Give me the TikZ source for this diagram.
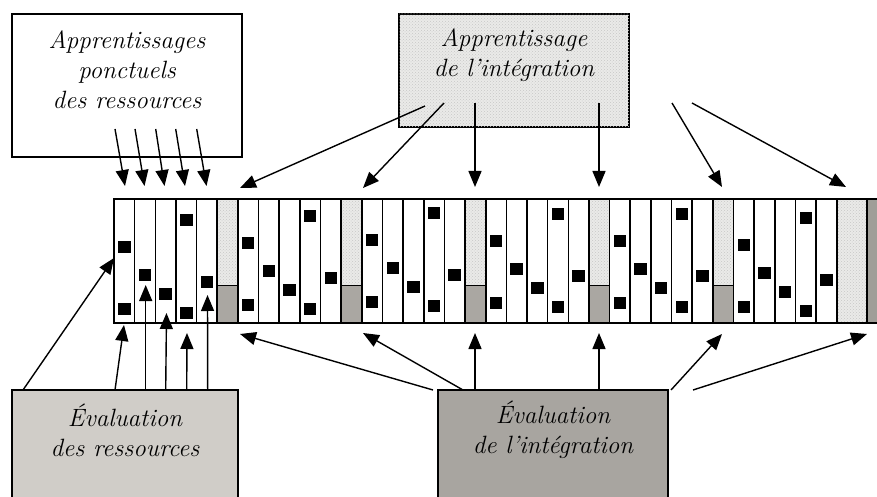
\documentclass[tikz,border=0pt]{standalone}
\usetikzlibrary{arrows.meta,patterns,calc}
\definecolor{lowgray}{RGB}{170,167,162}
\definecolor{cgray}{RGB}{208,205,200}
\definecolor{dgray}{RGB}{168,165,160}
\definecolor{rgray}{RGB}{160,158,152}
\definecolor{lightdot}{RGB}{234,234,232}
\begin{document}
\begin{tikzpicture}[x=1pt,y=-1pt,
  arr/.style={line width=1.4pt, -{Triangle[width=13pt,length=16pt]}},
  box/.style={draw, line width=1.4pt, rectangle, inner sep=0pt},
  lbl/.style={font=\fontsize{25}{30}\selectfont\itshape, align=center, inner sep=0pt},
  colline/.style={line width=1.6pt},
  dotfill/.style={fill=lightdot, postaction={pattern=crosshatch dots, pattern color=black!22}},
  sq/.style={fill=black, minimum size=12.5pt, inner sep=0pt, rectangle}
]
\clip (0,0) rectangle (877,497);
\fill[white] (0,0) rectangle (877,497);

% boxes
\node[box, fill=white, minimum width=230pt, minimum height=143pt] (A) at (127,85.5) {};
\node[lbl] (At) at (127,70) {Apprentissages\\ponctuels\\des ressources};
\node[box, dotfill, minimum width=230pt, minimum height=113pt] (B) at (514,70.5) {};
\node[lbl] (Bt) at (514,55) {Apprentissage\\de l'intégration};
\node[box, fill=cgray, minimum width=226pt, minimum height=130pt] (C) at (125,455) {};
\node[lbl] (Ct) at (125,430) {Évaluation\\des ressources};
\node[box, fill=dgray, minimum width=230pt, minimum height=130pt] (D) at (553,455) {};
\node[lbl] (Dt) at (553,430) {Évaluation\\de l'intégration};

% strip
\foreach \i in {5,11,17,23,29} {
  \path[dotfill] ({114+20.65*\i},199) rectangle ({114+20.65*(\i+1)},285);
  \fill[lowgray] ({114+20.65*\i},285) rectangle ({114+20.65*(\i+1)},323);
  \draw[line width=0.8pt] ({114+20.65*\i},285) -- ({114+20.65*(\i+1)},285);
}
\path[dotfill] (836.75,199) rectangle (867,323);
\fill[rgray] (867,199) rectangle (880,323);
\foreach \i in {1,...,35} {
  \draw[colline] ({114+20.65*\i},199) -- ({114+20.65*\i},323);
}
\draw[colline] (867,199) -- (867,323);
\draw[line width=1.7pt] (880,199) -- (114,199) -- (114,323) -- (880,323);

% squares
\foreach \g/\o in {0/6,1/2,2/-1,3/0,4/0,5/4} {
  \foreach \j/\yy in {0/241,0/303,1/269,2/288,3/214,3/307,4/276} {
    \node[sq] (s\g-\j-\yy) at ({114+20.65*(6*\g+\j)+10.3},{\yy+\o}) {};
  }
}

% arrows
\foreach \n/\sx/\sy/\tx/\ty in {
  a1/115/129/125/186, a2/135/129/144.5/186, a3/155.7/129/164.5/186,
  a4/175.7/129/185/186, a5/196.7/129/206.5/186,
  b1/425/106/240/188, b2/444/103/363/188, b3/475/103/475/187,
  b4/599/103/599/187, b5/672/103/722/187, b6/692/103/846/187,
  c1/23/390/114/258, c2/115/390/124/325, c3/145.7/390/145.7/285,
  c4/165.7/390/166.5/313, c5/186.7/390/187/333, c6/207.7/390/207.5/295,
  d1/433/390/240/334, d2/463/390/363/333, d3/475/390/475/333,
  d4/599/390/599/333, d5/671/390/722/334, d6/693/390/867/334} {
  \coordinate (\n s) at (\sx,\sy);
  \coordinate (\n t) at (\tx,\ty);
  \draw[arr] (\n s) -- (\n t);
}
\end{tikzpicture}
\end{document}
